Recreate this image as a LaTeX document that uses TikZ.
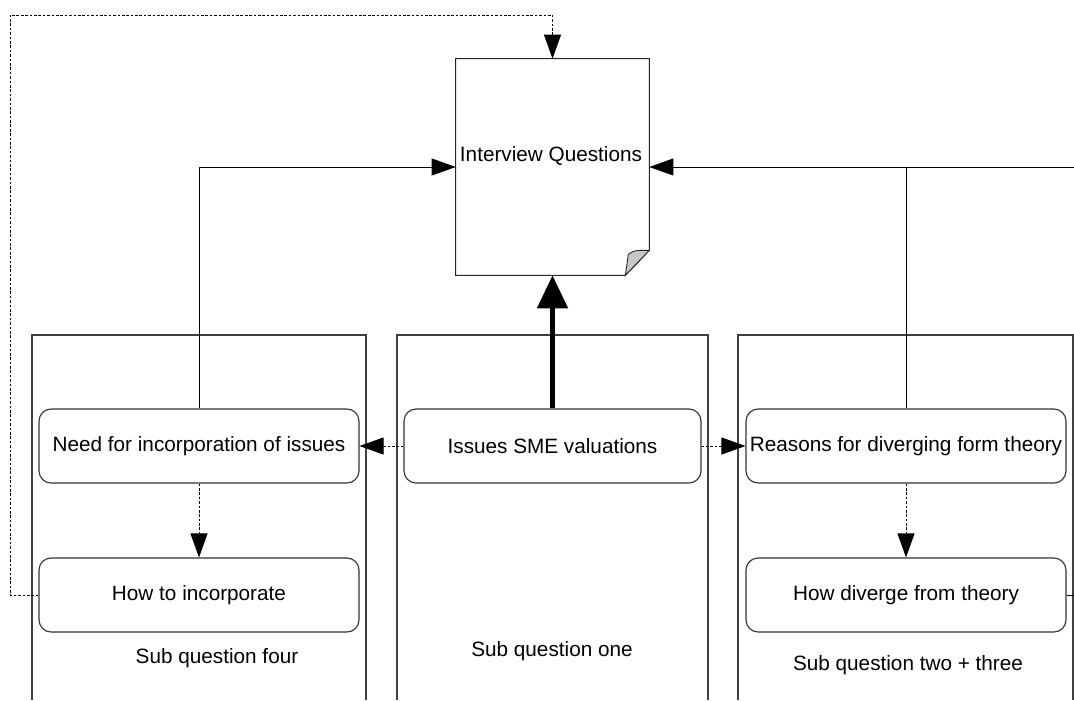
\documentclass[tikz,border=0pt]{standalone}
\usepackage{fontspec}
\setmainfont{Liberation Sans}
\usetikzlibrary{arrows.meta}

\tikzset{
    qbox/.style={draw=black!80, line width=0.65pt, rounded corners=0.24cm,
        minimum width=6.4cm, minimum height=1.48cm, inner sep=0pt},
    lane/.style={draw=black!75, line width=0.65pt},
    link/.style={line width=0.45pt, -{Triangle[length=0.48cm, width=0.34cm]}},
    dotlink/.style={link, dash pattern=on 1.5pt off 1pt},
}

\begin{document}
\begin{tikzpicture}[x=0.02cm, y=-0.02cm, font=\fontsize{11.8}{14}\selectfont]
    \useasboundingbox (0,0) rectangle (1074,700);

    % Swim lanes (open at the bottom)
    \draw[lane] (32,700) |- (366,335) -- (366,700);
    \draw[lane] (397,700) |- (708,335) -- (708,700);
    \draw[lane] (738,700) |- (1073,335) -- (1073,700);

    % Interview questions document
    \node[minimum width=3.86cm, minimum height=4.32cm, inner sep=0pt] (iq) at (552.5,167) {};
    \draw[line width=0.55pt, draw=black!85] (iq.north west) -- (iq.north east)
        -- ([yshift=0.5cm]iq.south east) -- ([xshift=-0.48cm]iq.south east)
        -- (iq.south west) -- cycle;
    \filldraw[fill=black!22, draw=black!85, line width=0.5pt]
        ([xshift=-0.48cm]iq.south east) -- ([xshift=-0.42cm, yshift=0.42cm]iq.south east)
        .. controls ([xshift=-0.3cm, yshift=0.5cm]iq.south east) .. ([yshift=0.5cm]iq.south east) -- cycle;
    \node (iqtext) at (551,156) {Interview Questions};

    % Question boxes
    \node[qbox] (need) at (199,446) {\raisebox{-1pt}{Need for incorporation of issues}};
    \node[qbox] (howinc) at (199,595) {\raisebox{-1pt}{How to incorporate}};
    \node[qbox, minimum width=5.94cm] (sme) at (552.5,446) {\raisebox{-1pt}{Issues SME valuations}};
    \node[qbox] (reasons) at (906,446) {\raisebox{-1pt}{Reasons for diverging form theory}};
    \node[qbox] (howdiv) at (906,595) {\raisebox{-1pt}{How diverge from theory}};

    % Lane titles
    \node (lfour) at (217,658) {Sub question four};
    \node (lone) at (552,651) {Sub question one};
    \node (ltwo) at (908,665) {Sub question two + three};

    % Connectors
    \coordinate (loop) at (10,15);
    \coordinate (rin) at (1074,167);
    \coordinate (rout) at (1074,595);

    \draw[line width=2.8pt, -{Triangle[length=0.66cm, width=0.6cm]}] (sme) -- (iq.south);
    \draw[link] (need.north) |- (iq.west);
    \draw[link] (reasons.north) |- (iq.east);
    \draw[line width=0.45pt] (rin) -- (reasons.north |- rin);
    \draw[dotlink] (sme) -- (need);
    \draw[dotlink] (sme) -- (reasons);
    \draw[dotlink] (need) -- (howinc);
    \draw[dotlink] (reasons) -- (howdiv);
    \draw[dotlink] (howinc.west) -| (loop) -| (iq.north);
    \draw[line width=0.45pt] (howdiv.east) -- (rout);
\end{tikzpicture}
\end{document}
